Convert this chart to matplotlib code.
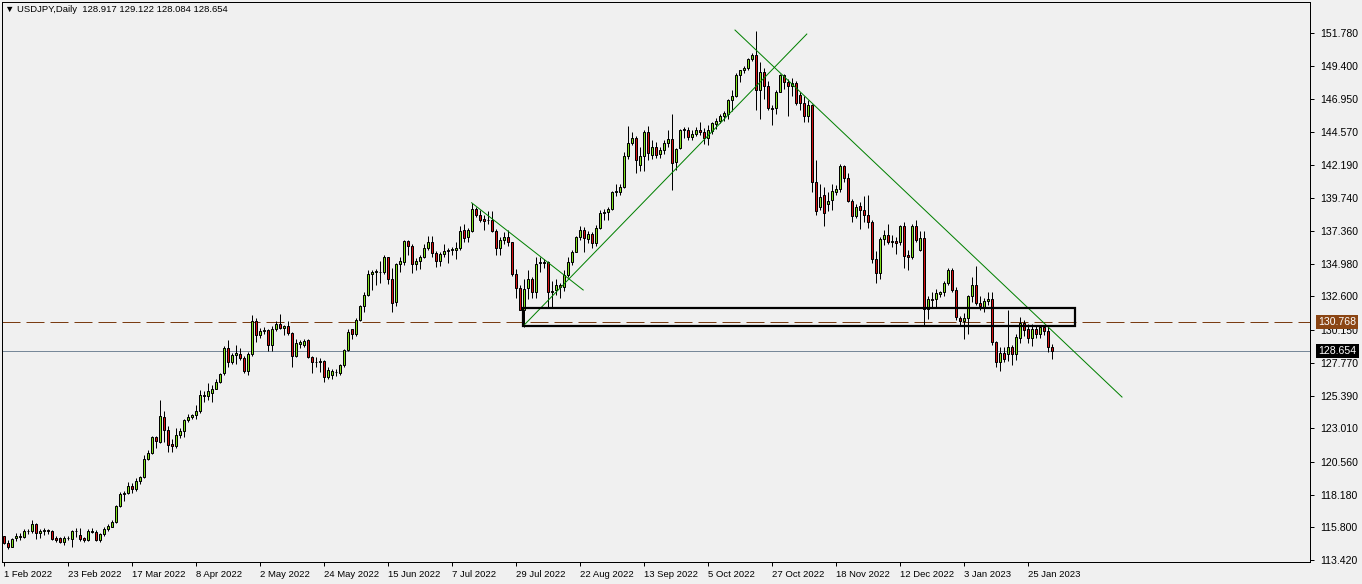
import numpy as np
import matplotlib.pyplot as plt
from matplotlib.patches import Rectangle

# daily candles (open, high, low, close)
feb_2022 = [(115.15, 115.20, 114.60, 114.65), (114.65, 114.85, 114.20, 114.40), (114.40, 115.00, 114.35, 114.95),
            (115.00, 115.40, 114.80, 115.20), (115.10, 115.40, 114.90, 115.15), (115.10, 115.70, 115.00, 115.55),
            (115.55, 115.70, 115.30, 115.50), (115.50, 116.35, 115.40, 116.05), (116.05, 116.10, 114.95, 115.40),
            (115.35, 115.70, 115.00, 115.55), (115.50, 115.75, 115.25, 115.60), (115.60, 115.70, 115.30, 115.50),
            (115.50, 115.60, 114.90, 114.95), (115.00, 115.15, 114.75, 114.90), (115.00, 115.10, 114.65, 114.75),
            (114.75, 115.15, 114.50, 115.05), (115.05, 115.20, 114.90, 115.00), (114.98, 115.60, 114.35, 115.50),
            (115.50, 115.75, 115.10, 115.55), (115.25, 115.75, 114.80, 114.95)]
mar_2022 = [(115.00, 115.10, 114.70, 114.90), (114.90, 115.70, 114.80, 115.50), (115.50, 115.75, 115.35, 115.45),
            (115.45, 115.60, 114.80, 114.85), (114.85, 115.40, 114.70, 115.30), (115.30, 115.80, 115.20, 115.65),
            (115.70, 116.05, 115.55, 115.90), (115.85, 116.30, 115.80, 116.15), (116.15, 117.45, 116.10, 117.35),
            (117.35, 118.35, 117.30, 118.20), (118.20, 118.45, 117.70, 118.30), (118.30, 119.10, 118.20, 118.80),
            (118.80, 119.00, 118.30, 118.60), (118.60, 119.40, 118.45, 119.15), (119.15, 119.55, 118.95, 119.45),
            (119.45, 121.05, 119.40, 120.80), (120.80, 121.40, 120.70, 121.20), (121.20, 122.45, 121.15, 122.35),
            (122.35, 122.45, 121.60, 122.05), (122.00, 125.10, 121.90, 123.90), (123.85, 124.30, 122.00, 122.90),
            (122.85, 123.20, 121.30, 121.80), (121.85, 122.20, 121.30, 121.70)]
apr_2022 = [(121.70, 123.05, 121.60, 122.50), (122.55, 123.00, 122.30, 122.80), (122.80, 123.70, 122.40, 123.60),
            (123.60, 124.05, 123.50, 123.80), (123.80, 124.05, 123.70, 123.95), (123.95, 124.70, 123.70, 124.30),
            (124.30, 125.80, 124.10, 125.40), (125.40, 125.75, 124.90, 125.35), (125.35, 126.30, 125.10, 125.70),
            (125.60, 126.15, 124.90, 125.90), (125.90, 126.60, 125.85, 126.40), (126.40, 127.00, 126.30, 126.95),
            (127.00, 129.00, 126.90, 128.85), (128.85, 129.40, 127.50, 127.85), (127.85, 128.45, 127.70, 128.35),
            (128.35, 129.10, 127.70, 128.45), (128.40, 128.85, 127.95, 128.10), (128.10, 128.30, 127.00, 127.20),
            (127.20, 128.55, 126.90, 128.40), (128.40, 131.25, 128.30, 130.80), (130.80, 131.00, 129.30, 129.80)]
may_2022 = [(129.80, 130.30, 129.60, 130.10), (130.10, 130.35, 129.85, 130.15), (130.15, 130.25, 128.65, 129.10),
            (129.10, 130.45, 128.65, 130.20), (130.20, 130.80, 130.10, 130.60), (130.60, 131.35, 130.20, 130.30),
            (130.30, 130.55, 129.80, 130.45), (130.45, 130.80, 129.80, 129.95), (129.95, 130.05, 127.50, 128.30),
            (128.30, 129.50, 128.20, 129.20), (129.15, 129.40, 128.85, 129.30), (129.10, 129.50, 128.90, 129.35),
            (129.40, 129.50, 128.15, 128.20), (128.20, 128.30, 127.00, 127.80), (127.80, 128.20, 127.50, 127.85),
            (127.85, 128.15, 127.10, 127.90), (127.90, 128.00, 126.35, 126.75), (126.75, 127.50, 126.60, 127.25),
            (126.90, 127.30, 126.60, 127.20), (127.10, 127.30, 126.80, 127.10), (127.00, 127.70, 126.90, 127.60),
            (127.60, 128.80, 127.50, 128.70)]
jun_2022 = [(128.70, 130.20, 128.60, 130.05), (130.20, 130.25, 129.50, 129.85), (129.85, 131.00, 129.70, 130.90),
            (130.90, 132.00, 130.80, 131.90), (131.90, 132.95, 131.50, 132.70), (132.70, 134.50, 132.60, 134.25),
            (134.25, 134.55, 133.10, 134.35), (134.35, 134.60, 133.40, 134.45), (134.40, 135.20, 133.60, 134.40),
            (134.40, 135.60, 134.20, 135.45), (135.45, 135.50, 133.50, 133.90), (133.90, 134.70, 131.50, 132.15),
            (132.20, 135.00, 131.90, 134.95), (134.95, 135.45, 134.40, 135.15), (135.10, 136.70, 134.90, 136.65),
            (136.65, 136.70, 135.60, 136.25), (136.25, 136.40, 134.30, 134.95), (134.95, 135.40, 134.50, 135.20),
            (135.20, 135.60, 134.60, 135.50), (135.50, 136.40, 135.40, 136.15), (136.15, 137.00, 136.00, 136.55),
            (136.55, 137.00, 135.50, 135.75)]
jul_2022 = [(135.75, 135.90, 134.75, 135.20), (135.20, 135.80, 134.80, 135.70), (135.70, 136.40, 135.50, 135.90),
            (135.90, 136.10, 135.00, 135.95), (135.95, 136.20, 135.60, 136.05), (136.00, 136.55, 135.30, 136.10),
            (136.10, 137.75, 136.00, 137.35), (137.45, 137.85, 136.60, 136.85), (136.90, 137.60, 136.60, 137.45),
            (137.40, 139.40, 137.30, 138.95), (138.95, 139.10, 138.40, 138.55), (138.55, 138.90, 138.00, 138.15),
            (138.25, 138.50, 137.45, 138.10), (138.20, 138.85, 137.85, 138.15), (138.20, 138.85, 137.30, 137.35),
            (137.35, 137.50, 135.60, 136.10), (136.15, 136.90, 135.60, 136.70), (136.70, 137.30, 136.40, 136.95),
            (136.95, 137.45, 136.30, 136.60), (136.55, 136.60, 134.10, 134.20), (134.20, 134.60, 132.50, 133.20)]
aug_2022 = [(133.20, 133.40, 131.60, 131.65), (131.60, 133.90, 130.40, 133.15), (133.20, 134.50, 132.40, 133.90),
            (133.90, 134.00, 132.50, 132.95), (132.95, 135.50, 132.50, 134.95), (135.00, 135.50, 134.40, 135.10),
            (135.10, 135.30, 134.70, 135.05), (135.10, 135.20, 131.75, 132.95), (132.95, 133.70, 131.75, 133.00),
            (133.05, 133.90, 132.70, 133.45), (133.45, 133.60, 132.50, 133.30), (133.30, 134.50, 133.00, 134.15),
            (134.15, 135.50, 134.00, 135.10), (135.10, 136.00, 134.90, 135.85), (135.85, 137.00, 135.80, 136.90),
            (136.90, 137.70, 136.70, 137.45), (137.45, 137.65, 135.85, 136.85), (136.80, 137.40, 136.50, 137.15),
            (137.15, 137.30, 136.15, 136.50), (136.50, 137.80, 136.30, 137.60), (137.60, 138.90, 137.50, 138.70),
            (138.70, 139.00, 138.20, 138.75), (138.75, 139.10, 138.20, 138.95)]
sep_2022 = [(139.00, 140.30, 138.90, 140.20), (140.20, 140.80, 139.90, 140.25), (140.20, 140.80, 140.00, 140.60),
            (140.60, 143.10, 140.50, 142.85), (142.80, 145.00, 142.60, 143.75), (143.75, 144.60, 143.60, 144.15),
            (144.15, 144.30, 141.60, 142.55), (142.15, 143.50, 141.70, 142.85), (142.85, 144.70, 141.70, 144.55),
            (144.60, 145.00, 142.55, 143.05), (142.90, 144.00, 142.60, 143.50), (143.50, 143.85, 142.70, 142.90),
            (142.95, 143.50, 142.65, 143.25), (143.25, 144.00, 143.00, 143.75), (143.75, 144.70, 143.50, 144.05),
            (144.05, 145.90, 140.35, 142.35), (142.40, 143.40, 141.80, 143.30), (143.40, 144.80, 143.30, 144.70),
            (144.80, 144.95, 144.10, 144.70), (144.75, 144.90, 144.00, 144.20), (144.20, 144.70, 144.00, 144.45),
            (144.45, 144.90, 144.25, 144.75)]
oct_2022 = [(144.70, 145.30, 144.35, 144.55), (144.60, 144.85, 143.70, 144.10), (144.10, 145.10, 143.60, 144.70),
            (144.65, 145.30, 144.40, 145.20), (145.15, 145.60, 144.80, 145.35), (145.35, 145.90, 145.20, 145.75),
            (145.75, 146.10, 145.40, 145.95), (145.90, 146.95, 145.50, 146.90), (146.90, 147.60, 146.10, 147.20),
            (147.20, 148.85, 147.10, 148.75), (148.70, 149.10, 148.20, 149.05), (149.05, 149.40, 148.85, 149.25),
            (149.25, 149.95, 149.10, 149.90), (149.90, 150.30, 149.75, 150.15), (150.15, 151.95, 146.20, 147.65),
            (147.60, 149.70, 145.55, 148.95), (148.95, 149.20, 147.00, 147.90), (147.90, 148.30, 146.20, 146.30),
            (146.35, 146.50, 145.10, 146.25), (146.30, 147.60, 145.90, 147.50), (147.50, 148.80, 147.50, 148.70)]
nov_2022 = [(148.70, 148.80, 147.70, 148.20), (148.20, 148.40, 145.70, 147.90), (147.95, 148.50, 147.20, 148.10),
            (148.10, 148.30, 146.50, 146.65), (147.25, 147.50, 146.20, 146.65), (146.65, 147.20, 145.30, 145.70),
            (145.70, 146.90, 145.30, 146.55), (146.50, 146.60, 140.20, 140.95), (140.95, 142.50, 138.50, 138.80),
            (139.10, 140.80, 138.90, 139.85), (139.95, 140.60, 137.70, 138.70), (139.30, 140.20, 138.80, 139.55),
            (139.60, 140.80, 138.90, 140.25), (140.20, 140.70, 139.95, 140.40), (140.40, 142.25, 140.20, 142.10),
            (142.10, 142.20, 140.90, 141.25), (141.20, 141.60, 139.50, 139.55), (139.55, 139.70, 138.00, 138.45),
            (138.45, 139.30, 138.30, 139.10), (139.20, 139.50, 137.50, 138.90), (138.90, 139.90, 138.00, 138.50),
            (138.55, 140.00, 137.60, 138.05)]
dec_2022 = [(138.05, 138.15, 135.00, 135.30), (135.30, 135.90, 133.60, 134.30), (134.30, 136.90, 133.90, 136.75),
            (136.75, 137.45, 136.35, 137.05), (137.05, 137.85, 136.40, 136.60), (136.60, 137.10, 136.20, 136.65),
            (136.65, 136.90, 135.70, 136.50), (136.55, 137.80, 136.35, 137.70), (137.70, 138.00, 134.70, 135.55),
            (135.65, 136.00, 134.55, 135.50), (135.50, 137.90, 135.30, 137.75), (137.75, 138.20, 136.60, 136.70),
            (136.00, 137.40, 135.90, 136.85), (136.85, 137.40, 130.55, 131.70), (131.70, 132.65, 130.95, 132.45),
            (132.45, 132.90, 131.75, 132.35), (132.45, 133.15, 131.80, 132.85), (132.80, 133.00, 132.55, 132.90),
            (132.90, 133.75, 132.60, 133.55), (133.55, 134.65, 133.45, 134.55), (134.55, 134.65, 132.90, 133.10),
            (133.10, 133.30, 130.90, 131.10)]
jan_2023 = [(131.05, 131.20, 130.55, 130.80), (130.80, 131.40, 129.50, 131.00), (131.00, 132.70, 129.90, 132.60),
            (132.60, 134.05, 132.20, 133.40), (133.40, 134.80, 132.00, 132.10), (132.10, 132.65, 131.60, 131.90),
            (131.85, 132.50, 131.50, 132.25), (132.25, 132.90, 132.00, 132.45), (132.45, 132.90, 129.10, 129.25),
            (129.25, 129.35, 127.50, 127.85), (127.80, 128.90, 127.20, 128.50), (128.50, 128.90, 127.80, 128.05),
            (128.40, 131.60, 127.90, 128.90), (128.90, 129.10, 127.60, 128.40), (128.40, 129.90, 128.00, 129.65),
            (129.60, 131.10, 129.20, 130.70), (130.70, 130.90, 129.70, 130.15), (130.20, 130.60, 129.20, 129.55),
            (129.55, 130.60, 129.00, 130.20), (130.25, 130.50, 129.60, 129.90), (129.90, 130.50, 129.60, 130.35),
            (130.35, 130.50, 129.80, 130.10)]
feb_2023 = [(130.10, 130.45, 128.55, 128.95), (128.917, 129.122, 128.084, 128.654)]

date_labels = ["1 Feb 2022", "23 Feb 2022", "17 Mar 2022", "8 Apr 2022", "2 May 2022", "24 May 2022",
               "15 Jun 2022", "7 Jul 2022", "29 Jul 2022", "22 Aug 2022", "13 Sep 2022", "5 Oct 2022",
               "27 Oct 2022", "18 Nov 2022", "12 Dec 2022", "3 Jan 2023", "25 Jan 2023"]
price_ticks = [113.420, 115.800, 118.180, 120.560, 123.010, 125.390, 127.770, 130.150, 132.600,
               134.980, 137.360, 139.740, 142.190, 144.570, 146.950, 149.400, 151.780]

level_line = 130.768      # dashed horizontal level
bid = 128.654             # current price line
header = "\u25bc USDJPY,Daily  128.917 129.122 128.084 128.654"

# drawn objects: (bar index, price)
trend_a = [(116.9, 139.42), (144.8, 133.07)]
trend_b = [(129.8, 130.45), (200.7, 151.70)]
trend_c = [(182.75, 151.99), (279.5, 125.28)]
zone_x = (129.7, 267.75)
zone_y = (130.42, 131.74)

ohlc = np.array(feb_2022 + mar_2022 + apr_2022 + may_2022 + jun_2022 + jul_2022 +
                aug_2022 + sep_2022 + oct_2022 + nov_2022 + dec_2022 + jan_2023 + feb_2023)
o, h, l, c = ohlc.T
x = np.arange(len(ohlc))

plt.rcParams['font.family'] = ['Liberation Sans', 'DejaVu Sans']
bg = '#f0f0f0'
fig = plt.figure(figsize=(13.62, 5.84), dpi=100, facecolor=bg)
W, H = 1362, 584
ax = fig.add_axes([2 / W, (H - 562) / H, 1308 / W, 560 / H], facecolor=bg)

px = 0.72  # one pixel in points
up = c >= o
ax.vlines(x, l, h, color='black', lw=px, zorder=2)
ax.bar(x[up], c[up] - o[up], bottom=o[up], width=0.55, color='#7fe01c',
       edgecolor='black', linewidth=px, zorder=3)
ax.bar(x[~up], c[~up] - o[~up], bottom=o[~up], width=0.55, color='#d41010',
       edgecolor='black', linewidth=px, zorder=3)

# levels
ax.axhline(level_line, color='#7a3c12', lw=px, dashes=(18, 6), zorder=1)
ax.axhline(bid, color='#778899', lw=px, zorder=1)

# trend lines and zone
for t in (trend_a, trend_b, trend_c):
    ax.plot([t[0][0], t[1][0]], [t[0][1], t[1][1]], color='#008000', lw=px, zorder=4)
ax.add_patch(Rectangle((zone_x[0], zone_y[0]), zone_x[1] - zone_x[0], zone_y[1] - zone_y[0],
                       fill=False, edgecolor='black', lw=1.6, zorder=5))

ax.set_xlim(-0.5, 326.5)
ax.set_ylim(113.42 - 2 / 13.74, 113.42 + 558 / 13.74)

ax.yaxis.tick_right()
ax.set_yticks(price_ticks)
ax.set_yticklabels([f"{p:.3f}" for p in price_ticks], fontsize=7.6)
ax.tick_params(axis='y', direction='out', length=3, width=px, pad=4, colors='black')
ax.set_xticks(np.arange(0, 16 * len(date_labels), 16))
ax.set_xticklabels(date_labels, fontsize=6.8, ha='left')
ax.tick_params(axis='x', direction='out', length=3, width=px, pad=3)
for s in ax.spines.values():
    s.set_linewidth(px)
    s.set_color('black')

# price tags on the right axis
for val, fc in ((level_line, '#8b4513'), (bid, 'black')):
    ax.annotate(f"{val:.3f}", xy=(1.0, val), xycoords=('axes fraction', 'data'),
                xytext=(6, 0), textcoords='offset points', va='center', ha='left',
                fontsize=7.6, color='white',
                bbox=dict(boxstyle='square,pad=0.2', fc=fc, ec='none'), annotation_clip=False)

ax.text(3 / 1308, 1 - 8 / 560, header, transform=ax.transAxes, fontsize=6.8, va='center', ha='left')

fig.savefig("out.png", dpi=100, facecolor=bg)
